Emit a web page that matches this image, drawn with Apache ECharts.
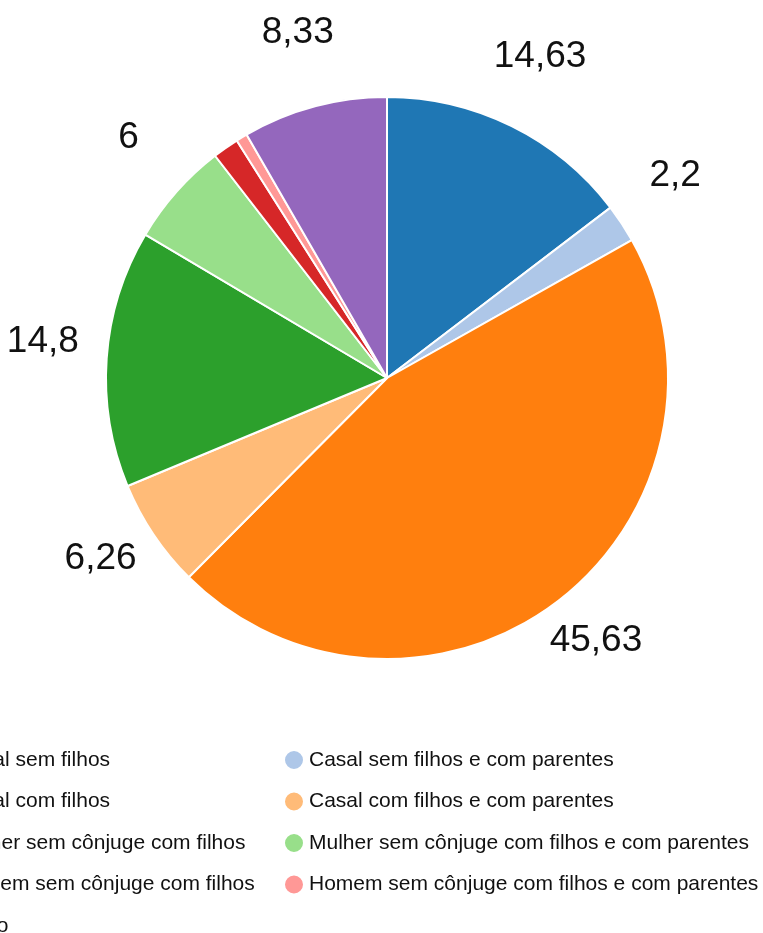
<!DOCTYPE html>
<html>
<head>
<meta charset="utf-8">
<script src="https://cdn.jsdelivr.net/npm/echarts@6/dist/echarts.min.js"></script>
<style>
  html, body { margin: 0; padding: 0; background: #fff; }
  #chart { width: 763px; height: 933px; }
</style>
</head>
<body>
<div id="chart"></div>
<script>
// categorias (ordem das fatias, sentido horário a partir do topo)
var categories = [
  'Casal sem filhos',
  'Casal sem filhos e com parentes',
  'Casal com filhos',
  'Casal com filhos e com parentes',
  'Mulher sem cônjuge com filhos',
  'Mulher sem cônjuge com filhos e com parentes',
  'Homem sem cônjuge com filhos',
  'Homem sem cônjuge com filhos e com parentes',
  'Outro'
];
var values = [14.63, 2.2, 45.63, 6.26, 14.8, 6, 1.5, 0.65, 8.33];
var colors = ['#1f77b4', '#aec7e8', '#ff7f0e', '#ffbb78', '#2ca02c', '#98df8a', '#d62728', '#ff9896', '#9467bd'];

var cx = 387, cy = 378;
var font = '"Liberation Sans", Arial, sans-serif';

var pieData = categories.map(function (name, i) {
  return {name: name, value: values[i]};
});
// legenda em duas colunas
var leftNames = categories.filter(function (n, i) { return i % 2 === 0; });
var rightNames = categories.filter(function (n, i) { return i % 2 === 1; });

function legendCol(names, left) {
  return {
    orient: 'vertical',
    left: left,
    top: 749,
    height: 240,
    padding: 0,
    itemWidth: 20,
    itemHeight: 20,
    itemGap: 19.5,
    icon: 'circle',
    selectedMode: false,
    data: names,
    textStyle: {color: '#111', fontSize: 21, fontFamily: font}
  };
}

var chart = echarts.init(document.getElementById('chart'));
chart.setOption({
  backgroundColor: '#fff',
  animation: false,
  color: colors,
  legend: [legendCol(leftNames, -70), legendCol(rightNames, 283)],
  series: [
    {
      type: 'pie',
      center: [cx, cy],
      radius: 281,
      startAngle: 90,
      clockwise: true,
      avoidLabelOverlap: false,
      minShowLabelAngle: 6,
      itemStyle: {borderColor: '#fff', borderWidth: 2},
      emphasis: {scale: false},
      label: {
        show: true,
        position: 'outside',
        distanceToLabelLine: 0,
        color: '#111',
        fontSize: 37,
        fontFamily: font,
        formatter: function (p) {
          return String(p.value).replace('.', ',');
        }
      },
      labelLine: {show: false, length: 64, length2: 0},
      // centraliza o texto no ponto radial (linha de base no raio)
      labelLayout: function (p) {
        var r = p.labelRect;
        var mid = r.x + r.width / 2;
        var ax = mid < cx ? r.x + r.width : r.x;
        var ay = r.y + r.height / 2;
        return {x: ax, y: ay - 12, align: 'center', verticalAlign: 'middle'};
      },
      data: pieData
    }
  ]
});
</script>
</body>
</html>
